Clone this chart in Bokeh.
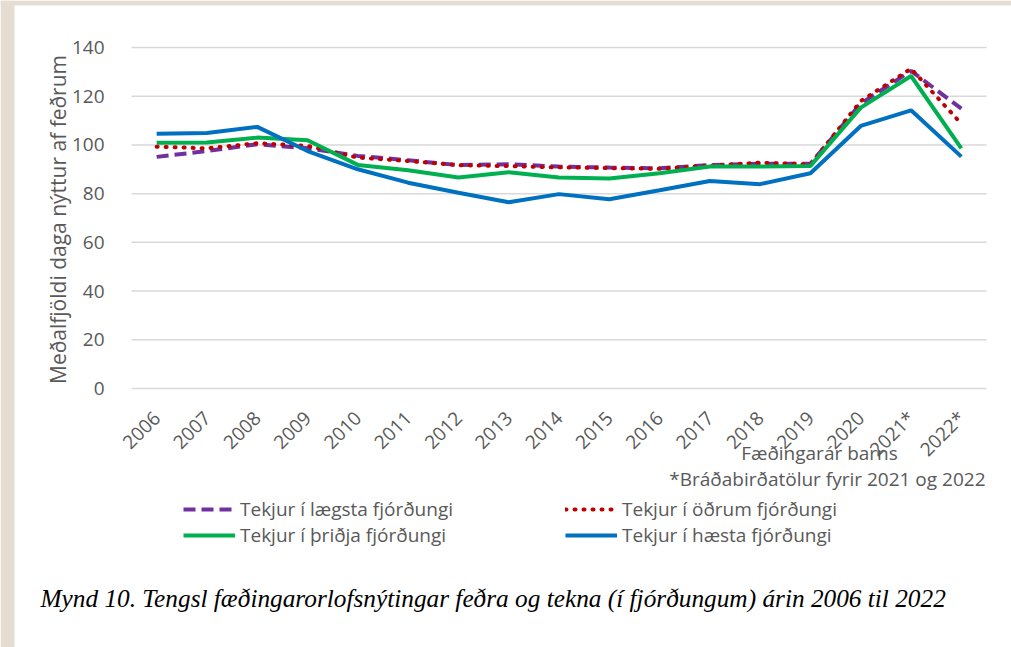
import math
from bokeh.plotting import figure
from bokeh.models import (Range1d, FixedTicker, Legend, LegendItem, Label, BoxAnnotation)
from bokeh.embed import file_html
from bokeh.resources import INLINE

years = ["2006", "2007", "2008", "2009", "2010", "2011", "2012", "2013", "2014",
         "2015", "2016", "2017", "2018", "2019", "2020", "2021*", "2022*"]
laegsta = [95.1, 97.5, 100.3, 98.6, 95.5, 93.7, 91.7, 92.1, 91.1, 90.7, 90.4,
           91.7, 92.3, 92.3, 117.0, 130.4, 114.9]
odrum = [99.3, 98.6, 100.7, 99.6, 94.8, 93.4, 91.7, 91.3, 90.8, 90.5, 90.2,
         91.5, 92.7, 92.0, 118.0, 131.3, 108.7]
thridja = [100.9, 101.0, 103.0, 101.9, 91.8, 89.6, 86.6, 88.8, 86.6, 86.2, 88.4,
           91.1, 91.1, 91.4, 115.3, 128.3, 98.6]
haesta = [104.6, 104.9, 107.4, 97.5, 90.0, 84.5, 80.4, 76.5, 79.8, 77.7, 81.4,
          85.2, 83.9, 88.4, 107.8, 114.2, 95.2]
y_ticks = [0, 20, 40, 60, 80, 100, 120, 140]

series_names = ["Tekjur í lægsta fjórðungi", "Tekjur í öðrum fjórðungi",
                "Tekjur í þriðja fjórðungi", "Tekjur í hæsta fjórðungi"]
series_colors = ["#7030a0", "#c00000", "#00b050", "#0070c0"]
y_title = "Meðalfjöldi daga nýttur af feðrum"
x_title = "Fæðingarár barns"
note = "*Bráðabirðatölur fyrir 2021 og 2022"
caption = "Mynd 10. Tengsl fæðingarorlofsnýtingar feðra og tekna (í fjórðungum) árin 2006 til 2022"

FONT = "Open Sans"
GREY = "#595959"
BEIGE = "#e5ddd1"

# page / plotting-area geometry (pixels)
W, H = 1011, 647
AREA_L, AREA_R, AREA_T, AREA_B = 131, 986, 47, 388

xs = list(range(len(years)))
x_lo, x_hi = xs[0] - 0.5, xs[-1] + 0.5
y_lo, y_hi = y_ticks[0], y_ticks[-1]
ux = (AREA_R - AREA_L) / (x_hi - x_lo)
uy = (AREA_B - AREA_T) / (y_hi - y_lo)
x_range = Range1d(x_lo - AREA_L / ux, x_hi + (W - AREA_R) / ux)
y_range = Range1d(y_lo - (H - AREA_B) / uy, y_hi + AREA_T / uy)

series = [laegsta, odrum, thridja, haesta]
styles = [dict(line_dash="12 6"), dict(line_dash="1 8", line_cap="round"),
          dict(), dict()]

p = figure(width=W, height=H, output_backend="svg", toolbar_location=None,
           title=None, x_range=x_range, y_range=y_range,
           min_border=0, min_border_left=0, min_border_right=0,
           min_border_top=0, min_border_bottom=0)
p.outline_line_color = None
p.background_fill_color = "white"
p.border_fill_color = "white"
p.xgrid.visible = False
p.ygrid.visible = False

# beige page edges
p.add_layout(BoxAnnotation(left=0, right=14, bottom=0, top=H,
                           left_units="screen", right_units="screen",
                           bottom_units="screen", top_units="screen",
                           fill_color=BEIGE, fill_alpha=1, line_color=None))
p.add_layout(BoxAnnotation(left=0, right=W, bottom=H - 5, top=H,
                           left_units="screen", right_units="screen",
                           bottom_units="screen", top_units="screen",
                           fill_color=BEIGE, fill_alpha=1, line_color=None))

# horizontal gridlines at the y ticks, across the category span
p.segment(x0=[x_lo] * len(y_ticks), x1=[x_hi] * len(y_ticks), y0=y_ticks, y1=y_ticks,
          line_color="#d9d9d9", line_width=1.5)

# axes drawn at fixed data positions
p.xaxis.fixed_location = y_lo
p.xaxis.ticker = FixedTicker(ticks=xs)
p.xaxis.major_label_overrides = {t: y for t, y in zip(xs, years)}
p.xaxis.major_label_orientation = math.pi / 4
p.xaxis.axis_line_color = None
p.xaxis.major_tick_line_color = None
p.xaxis.minor_tick_line_color = None
p.xaxis.major_label_standoff = 20
p.xaxis.major_label_text_font = FONT
p.xaxis.major_label_text_font_size = "19px"
p.xaxis.major_label_text_color = GREY

p.yaxis.fixed_location = x_lo
p.yaxis.ticker = FixedTicker(ticks=y_ticks)
p.yaxis.axis_line_color = None
p.yaxis.major_tick_line_color = None
p.yaxis.minor_tick_line_color = None
p.yaxis.major_label_standoff = 21
p.yaxis.major_label_text_font = FONT
p.yaxis.major_label_text_font_size = "19px"
p.yaxis.major_label_text_color = GREY

renderers = [p.line(xs, vals, line_color=col, line_width=4, **st)
             for vals, col, st in zip(series, series_colors, styles)]


def make_legend(idx, loc):
    return Legend(items=[LegendItem(label=series_names[i], renderers=[renderers[i]])
                         for i in idx],
                  location=loc, orientation="vertical",
                  glyph_width=52, glyph_height=20, label_height=20,
                  label_standoff=5, spacing=0, padding=0, margin=0,
                  border_line_color=None, background_fill_alpha=0,
                  label_text_font=FONT, label_text_font_size="19px",
                  label_text_color=GREY)


p.add_layout(make_legend([0, 2], (183, H - 548)))
p.add_layout(make_legend([1, 3], (565, H - 548)))


def screen_label(text, x, y, **kw):
    opts = dict(text_font=FONT, text_font_size="19px", text_color=GREY,
                text_baseline="middle")
    opts.update(kw)
    p.add_layout(Label(x=x, y=H - y, x_units="screen", y_units="screen",
                       text=text, **opts))


screen_label(y_title, 57, 219, text_align="center", angle=math.pi / 2,
             text_font_size="21px")
screen_label(x_title, 819, 452, text_align="center")
screen_label(note, 985, 478, text_align="right")
screen_label(caption, 40, 597, text_align="left", text_font="Liberation Serif",
             text_font_style="italic", text_font_size="25.3px", text_color="black")

open("out.html", "w").write(file_html(p, INLINE))
